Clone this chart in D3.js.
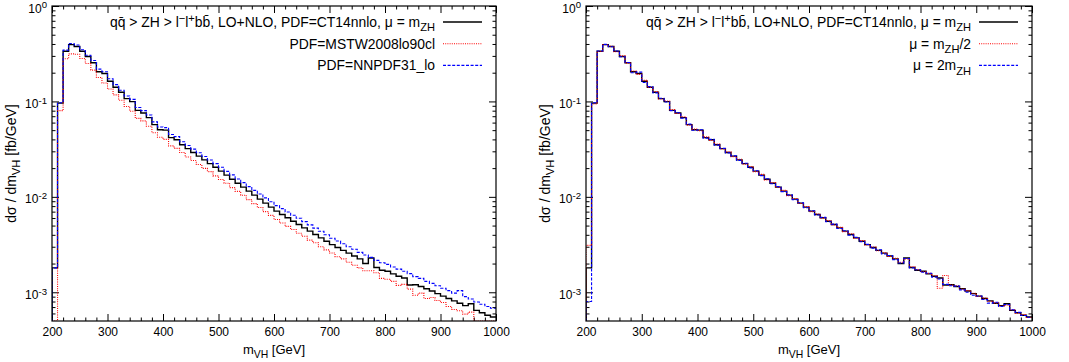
<!DOCTYPE html>
<html><head><meta charset="utf-8">
<script src="https://cdn.jsdelivr.net/npm/d3@7"></script>
<style>
body{margin:0;background:#fff}
svg{display:block}
text{font-family:"Liberation Sans",Arial,Helvetica,sans-serif;fill:#000}
</style>
</head><body>
<svg id="chart" width="1069" height="362"></svg>
<script>
// m_VH histogram, 10 GeV bins from 200 to 1000 GeV, d sigma / d m_VH in fb/GeV
const binStart = 200;
const binWidth = 10;

// CT14nnlo, mu = m_ZH (reference curve, shown in both panels)
const ct14 = [
  0.0018, 0.096, 0.336, 0.394, 0.376, 0.336, 0.296, 0.254, 0.205, 0.196,
  0.163, 0.141, 0.125, 0.107, 0.0995, 0.0805, 0.0755, 0.0676, 0.0572, 0.0505,
  0.0500, 0.0417, 0.0397, 0.0352, 0.0320, 0.0292, 0.0267, 0.0244, 0.0223, 0.0204,
  0.0186, 0.0169, 0.0153, 0.0139, 0.01265, 0.01148, 0.01042, 0.00946, 0.00859, 0.00780,
  0.00708, 0.00653, 0.00603, 0.00556, 0.00513, 0.00473, 0.00437, 0.00403, 0.00372, 0.00343,
  0.00316, 0.00295, 0.00275, 0.00257, 0.00240, 0.00224, 0.00200, 0.00229, 0.00182, 0.00170,
  0.00166, 0.00156, 0.00147, 0.00141, 0.00119, 0.00120, 0.00115, 0.00109, 0.00103, 0.000968,
  0.000912, 0.000861, 0.000813, 0.000767, 0.000724, 0.000759, 0.000646, 0.000610, 0.000575, 0.000550
];

// MSTW2008lo90cl
const mstw = [
  0, 0.080, 0.280, 0.315, 0.312, 0.282, 0.250, 0.213, 0.178, 0.156,
  0.135, 0.117, 0.103, 0.0885, 0.0790, 0.0665, 0.0625, 0.0550, 0.0470, 0.0422,
  0.0400, 0.0342, 0.0322, 0.0292, 0.0262, 0.0240, 0.0218, 0.0199, 0.0184, 0.0166,
  0.0152, 0.0139, 0.0125, 0.0114, 0.0104, 0.00935, 0.00850, 0.00772, 0.00700, 0.00640,
  0.00578, 0.00532, 0.00490, 0.00455, 0.00415, 0.00386, 0.00352, 0.00330, 0.00300, 0.00278,
  0.00258, 0.00236, 0.00224, 0.00206, 0.00192, 0.00180, 0.00168, 0.00168, 0.00160, 0.00140,
  0.00137, 0.00130, 0.00118, 0.00121, 0.00108, 0.00093, 0.00098, 0.00086, 0.00088, 0.00082,
  0.00078, 0.00071, 0.00066, 0.00064, 0.00059, 0.00062, 0.00048, 0.00046, 0.00044, 0.00042
];

// NNPDF31_lo
const nnpdf = [
  0.0018, 0.097, 0.345, 0.405, 0.390, 0.348, 0.305, 0.268, 0.218, 0.205,
  0.173, 0.150, 0.131, 0.114, 0.105, 0.0865, 0.0800, 0.0720, 0.0610, 0.0540,
  0.0532, 0.0450, 0.0428, 0.0378, 0.0345, 0.0316, 0.0290, 0.0265, 0.0243, 0.0223,
  0.0204, 0.0185, 0.0170, 0.0154, 0.0141, 0.0128, 0.0117, 0.0107, 0.00975, 0.00890,
  0.00810, 0.00752, 0.00695, 0.00642, 0.00596, 0.00550, 0.00508, 0.00470, 0.00436, 0.00400,
  0.00368, 0.00344, 0.00322, 0.00300, 0.00282, 0.00262, 0.00246, 0.00232, 0.00216, 0.00204,
  0.00196, 0.00184, 0.00175, 0.00166, 0.00157, 0.00146, 0.00140, 0.00130, 0.00124, 0.00117,
  0.00110, 0.00104, 0.00098, 0.00104, 0.00090, 0.00085, 0.00079, 0.00075, 0.00071, 0.00068
];

// CT14nnlo, mu = m_ZH/2
const muHalf = [
  0.0031, 0.094, 0.333, 0.392, 0.378, 0.332, 0.300, 0.252, 0.208, 0.192,
  0.166, 0.140, 0.127, 0.106, 0.101, 0.0820, 0.0748, 0.0690, 0.0565, 0.0512,
  0.0492, 0.0425, 0.0390, 0.0358, 0.0318, 0.0296, 0.0264, 0.0248, 0.0220, 0.0208,
  0.0184, 0.0172, 0.0150, 0.0141, 0.0126, 0.0117, 0.0103, 0.00962, 0.00852, 0.00792,
  0.00700, 0.00662, 0.00598, 0.00565, 0.00508, 0.00480, 0.00432, 0.00410, 0.00368, 0.00348,
  0.00313, 0.00298, 0.00272, 0.00260, 0.00237, 0.00227, 0.00206, 0.00224, 0.00185, 0.00172,
  0.00164, 0.00158, 0.00149, 0.00110, 0.00150, 0.00119, 0.00117, 0.00108, 0.00104, 0.000975,
  0.000905, 0.000870, 0.000805, 0.000775, 0.000718, 0.000730, 0.000655, 0.000602, 0.000585, 0.000545
];

// CT14nnlo, mu = 2 m_ZH
const muDouble = [
  0.0008, 0.097, 0.338, 0.396, 0.374, 0.338, 0.294, 0.256, 0.200, 0.203,
  0.158, 0.143, 0.123, 0.108, 0.0985, 0.0800, 0.0762, 0.0668, 0.0578, 0.0498,
  0.0505, 0.0412, 0.0400, 0.0348, 0.0322, 0.0289, 0.0269, 0.0241, 0.0225, 0.0201,
  0.0188, 0.0167, 0.0155, 0.0137, 0.0128, 0.01135, 0.01050, 0.00935, 0.00868, 0.00770,
  0.00715, 0.00645, 0.00610, 0.00548, 0.00518, 0.00466, 0.00441, 0.00397, 0.00376, 0.00338,
  0.00318, 0.00290, 0.00278, 0.00252, 0.00243, 0.00220, 0.00203, 0.00226, 0.00180, 0.00172,
  0.00162, 0.00158, 0.00144, 0.00138, 0.00121, 0.00117, 0.00116, 0.00106, 0.00100, 0.000930,
  0.000915, 0.000840, 0.000770, 0.000785, 0.000710, 0.000745, 0.000655, 0.000615, 0.000570, 0.000548
];

const xTickValues = [200, 300, 400, 500, 600, 700, 800, 900, 1000];
const xMinorStep = 20;
const yTickExponents = [0, -1, -2, -3];
const xDomain = [200, 1000];
const yDomain = [5e-4, 1];

const styles = {
  solid:  {color: "#000000", width: 1.4, dash: null},
  dotted: {color: "#ff0000", width: 1.1, dash: "1,1.2"},
  dashed: {color: "#0000ff", width: 1.1, dash: "3,1.6"}
};

const svg = d3.select("#chart");

// Appends text made of plain / subscript / superscript pieces
function richText(sel, parts, size) {
  let shift = 0;
  parts.forEach(p => {
    let target = 0, fs = size;
    if (p.sub) { target = size * 0.3; fs = size * 0.8; }
    if (p.sup) { target = -size * 0.35; fs = size * 0.8; }
    sel.append("tspan").text(p.t).attr("dy", target - shift).attr("font-size", fs);
    shift = target;
  });
  return sel;
}

// tick marks only (no labels), drawn with a d3 axis generator
function tickAxis(g, axisFn, scale, values, size, transform) {
  g.append("g").attr("transform", transform)
    .call(axisFn(scale).tickValues(values).tickSizeInner(size).tickSizeOuter(0).tickFormat(() => ""))
    .call(s => { s.select(".domain").remove(); s.selectAll("text").remove(); });
}

function drawPanel(cfg) {
  const {left, right, top, bottom, series, legend} = cfg;
  const x = d3.scaleLinear().domain(xDomain).range([left, right]);
  const y = d3.scaleLog().domain(yDomain).range([bottom, top]).clamp(true);
  const g = svg.append("g");

  const clipId = "clip" + Math.round(left);
  g.append("clipPath").attr("id", clipId).append("rect")
    .attr("x", left).attr("y", top).attr("width", right - left).attr("height", bottom - top);

  const xMinor = d3.range(xDomain[0], xDomain[1] + 1, xMinorStep).filter(v => !xTickValues.includes(v));
  const yMinor = [];
  yTickExponents.concat([-4]).forEach(e => {
    for (let k = 2; k <= 9; k++) {
      const v = k * Math.pow(10, e);
      if (v > yDomain[0] && v < yDomain[1]) yMinor.push(v);
    }
  });
  const yMajor = yTickExponents.map(e => Math.pow(10, e));

  // mirrored ticks on all four sides
  tickAxis(g, d3.axisBottom, x, xTickValues, -7, `translate(0,${bottom})`);
  tickAxis(g, d3.axisBottom, x, xMinor, -3.5, `translate(0,${bottom})`);
  tickAxis(g, d3.axisTop, x, xTickValues, -7, `translate(0,${top})`);
  tickAxis(g, d3.axisTop, x, xMinor, -3.5, `translate(0,${top})`);
  tickAxis(g, d3.axisLeft, y, yMajor, -7, `translate(${left},0)`);
  tickAxis(g, d3.axisLeft, y, yMinor, -3.5, `translate(${left},0)`);
  tickAxis(g, d3.axisRight, y, yMajor, -7, `translate(${right},0)`);
  tickAxis(g, d3.axisRight, y, yMinor, -3.5, `translate(${right},0)`);
  g.selectAll(".tick line").attr("stroke", "#000").attr("stroke-width", 1);

  // x tick labels
  const xa = g.append("g").attr("transform", `translate(0,${bottom})`)
    .call(d3.axisBottom(x).tickValues(xTickValues).tickFormat(d3.format("d")).tickSize(0).tickPadding(6));
  xa.select(".domain").remove();
  xa.attr("font-family", null).attr("font-size", null);
  xa.selectAll("text").attr("font-size", 12).attr("fill", "#000");

  // y tick labels 10^n
  const ya = g.append("g").attr("transform", `translate(${left},0)`)
    .call(d3.axisLeft(y).tickValues(yMajor).tickSize(0).tickPadding(5).tickFormat(() => ""));
  ya.select(".domain").remove();
  ya.attr("font-family", null).attr("font-size", null);
  ya.selectAll(".tick text").each(function(d) {
    const t = d3.select(this).attr("fill", "#000").attr("dy", null).attr("y", 6).attr("font-size", 12);
    richText(t, [{t: "10"}, {t: String(Math.round(Math.log10(d))), sup: true}], 12);
  });

  // histogram step lines
  const stepPath = vals => {
    const pts = [[x(binStart), bottom]];
    vals.forEach((v, i) => {
      const yy = v > 0 ? y(v) : bottom;
      pts.push([x(binStart + i * binWidth), yy]);
      pts.push([x(binStart + (i + 1) * binWidth), yy]);
    });
    return d3.line()(pts);
  };
  const lines = g.append("g").attr("clip-path", `url(#${clipId})`);
  series.forEach(s => {
    const st = styles[s.style];
    lines.append("path").attr("d", stepPath(s.values)).attr("fill", "none")
      .attr("stroke", st.color).attr("stroke-width", st.width)
      .attr("stroke-dasharray", st.dash);
  });

  // frame
  g.append("rect").attr("x", left).attr("y", top).attr("width", right - left).attr("height", bottom - top)
    .attr("fill", "none").attr("stroke", "#000").attr("stroke-width", 1.2);

  // legend
  legend.forEach((L, i) => {
    const ly = top + 16 + i * 21.7;
    const t = g.append("text").attr("x", right - 61).attr("y", ly + 5)
      .attr("text-anchor", "end").attr("font-size", 13.9);
    richText(t, L.parts, 13.9);
    const st = styles[L.style];
    g.append("line").attr("x1", right - 53).attr("x2", right - 14).attr("y1", ly).attr("y2", ly)
      .attr("stroke", st.color).attr("stroke-width", st.width).attr("stroke-dasharray", st.dash);
  });

  // axis titles
  const xt = g.append("text").attr("x", (left + right) / 2).attr("y", bottom + 33)
    .attr("text-anchor", "middle").attr("font-size", 13);
  richText(xt, [{t: "m"}, {t: "VH", sub: true}, {t: " [GeV]"}], 13);
  const yt = g.append("text").attr("transform", `translate(${left - 36},${(top + bottom) / 2}) rotate(-90)`)
    .attr("text-anchor", "middle").attr("font-size", 14);
  richText(yt, [{t: "d\u03c3 / dm"}, {t: "VH", sub: true}, {t: " [fb/GeV]"}], 14);
}

const headline = [
  {t: "qq\u0304 > ZH > l"}, {t: "\u2212", sup: true}, {t: "l"}, {t: "+", sup: true},
  {t: "bb\u0304, LO+NLO, PDF=CT14nnlo, \u03bc = m"}, {t: "ZH", sub: true}
];

drawPanel({
  left: 52, right: 496, top: 6, bottom: 321,
  series: [
    {values: ct14, style: "solid"},
    {values: mstw, style: "dotted"},
    {values: nnpdf, style: "dashed"}
  ],
  legend: [
    {parts: headline, style: "solid"},
    {parts: [{t: "PDF=MSTW2008lo90cl"}], style: "dotted"},
    {parts: [{t: "PDF=NNPDF31_lo"}], style: "dashed"}
  ]
});

drawPanel({
  left: 586, right: 1032, top: 6, bottom: 321,
  series: [
    {values: ct14, style: "solid"},
    {values: muHalf, style: "dotted"},
    {values: muDouble, style: "dashed"}
  ],
  legend: [
    {parts: headline, style: "solid"},
    {parts: [{t: "\u03bc = m"}, {t: "ZH", sub: true}, {t: "/2"}], style: "dotted"},
    {parts: [{t: "\u03bc = 2m"}, {t: "ZH", sub: true}], style: "dashed"}
  ]
});
</script>
</body></html>
